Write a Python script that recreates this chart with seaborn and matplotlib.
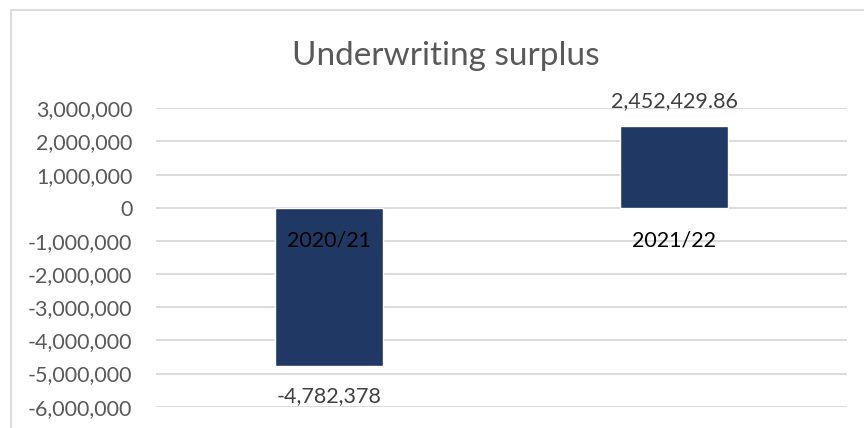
import matplotlib
matplotlib.use("Agg")
import matplotlib.pyplot as plt
import seaborn as sns
import pandas as pd
from matplotlib.patches import Rectangle

categories = ["2020/21", "2021/22"]
values = [-4782378, 2452429.86]
value_labels = ["-4,782,378", "2,452,429.86"]
tick_values = [-6000000, -5000000, -4000000, -3000000, -2000000, -1000000, 0,
               1000000, 2000000, 3000000]
tick_labels = ["-6,000,000", "-5,000,000", "-4,000,000", "-3,000,000", "-2,000,000",
               "-1,000,000", "0", "1,000,000", "2,000,000", "3,000,000"]
title = "Underwriting surplus"

df = pd.DataFrame({"year": categories, "surplus": values})

sns.set_style("white")
plt.rcParams["font.family"] = ["Lato", "DejaVu Sans"]

W, H, DPI = 864, 428, 100
fig = plt.figure(figsize=(W / DPI, H / DPI), dpi=DPI)
ax = fig.add_axes([156 / W, 1 - 406.7 / H, (847 - 156) / W, (406.7 - 108.3) / H])

sns.barplot(data=df, x="year", y="surplus", color="#203864", saturation=1,
            width=0.313, ax=ax, zorder=3)

ax.set_ylim(tick_values[0], tick_values[-1])
ax.set_yticks(tick_values)
ax.set_yticklabels(tick_labels)
ax.tick_params(axis="y", length=0, pad=17, labelsize=15.5, labelcolor="#595959")
ax.set_xticks([])
ax.set_xlabel("")
ax.set_ylabel("")
for s in ax.spines.values():
    s.set_visible(False)
ax.grid(axis="y", color="#d9d9d9", linewidth=1.3, zorder=0)
ax.set_axisbelow(True)

# data labels
for i, (v, lab) in enumerate(zip(values, value_labels)):
    off = 19.5 if v >= 0 else -36
    ax.annotate(lab, xy=(i, v), xytext=(0, off), textcoords="offset pixels",
                ha="center", va="baseline", fontsize=15.5, color="#404040", zorder=5)

# category labels at the zero line
for i, c in enumerate(categories):
    ax.annotate(c, xy=(i, 0), xytext=(0, -39), textcoords="offset pixels",
                ha="center", va="baseline", fontsize=15.5, color="#000000", zorder=5)

fig.text(446 / W, 1 - 65 / H, title, ha="center", va="baseline",
         fontsize=24, color="#595959")

# chart area border
fig.patches.append(Rectangle((11 / W, -0.1), 1.2, 1 - 9.5 / H + 0.1,
                             transform=fig.transFigure, fill=False,
                             edgecolor="#d9d9d9", linewidth=1.3))

fig.savefig("out.png", dpi=DPI)
